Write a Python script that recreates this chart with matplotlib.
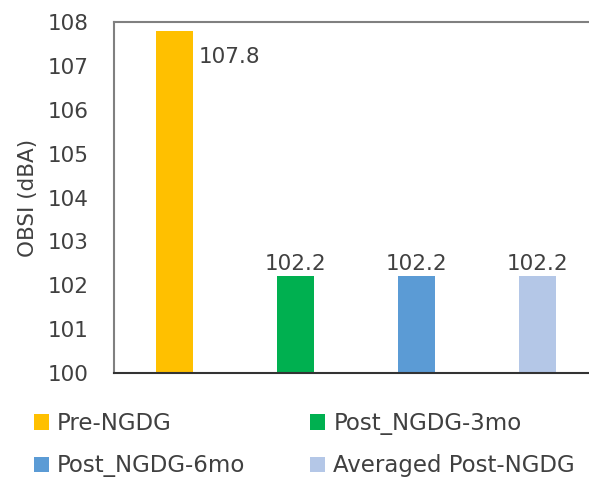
import matplotlib.pyplot as plt
from matplotlib.patches import Patch

plt.rcParams['font.family'] = ['DejaVu Sans']

groups = ['Pre-NGDG', 'Post_NGDG-3mo', 'Post_NGDG-6mo', 'Averaged Post-NGDG']
obsi = [107.8, 102.2, 102.2, 102.2]
colors = ['#FFC000', '#00B050', '#5B9BD5', '#B4C7E7']
txt = '#404040'

fig = plt.figure(figsize=(5.89, 4.78), dpi=100)
ax = fig.add_axes([114 / 589, 105 / 478, 484 / 589, 351 / 478])

x = list(range(len(groups)))
ax.bar(x, [v - 100 for v in obsi], bottom=100, width=0.31, color=colors)

# value labels
ax.text(x[0] + 0.2, obsi[0] - 0.6, f'{obsi[0]:.1f}', ha='left', va='center',
        fontsize=15.5, color=txt)
for i in x[1:]:
    ax.text(i, obsi[i] + 0.05, f'{obsi[i]:.1f}', ha='center', va='bottom',
            fontsize=15.5, color=txt)

ax.set_xlim(-0.5, 3.5)
ax.set_ylim(100, 108)
ax.set_yticks(range(100, 109))
ax.set_xticks([])
ax.tick_params(axis='y', length=0, labelsize=15.5, labelcolor=txt, pad=18)
ax.set_ylabel('OBSI (dBA)', fontsize=15.5, color=txt, labelpad=7)

for s in ['left', 'top']:
    ax.spines[s].set_color('#808080')
    ax.spines[s].set_linewidth(1.5)
ax.spines['bottom'].set_color('#333333')
ax.spines['bottom'].set_linewidth(1.5)
ax.spines['right'].set_visible(False)

# legend fills column-wise, so reorder to get row-wise order
order = [0, 2, 1, 3]
handles = [Patch(facecolor=colors[i], label=groups[i]) for i in order]
fig.legend(handles=handles, ncol=2, loc='upper left',
           bbox_to_anchor=(34 / 589, 1 - 412 / 478), frameon=False,
           fontsize=16.5, labelcolor=txt, handlelength=0.65, handleheight=0.65,
           handletextpad=0.35, columnspacing=2.84, labelspacing=0.85,
           borderaxespad=0, borderpad=0)

fig.savefig('out.png', dpi=100)
